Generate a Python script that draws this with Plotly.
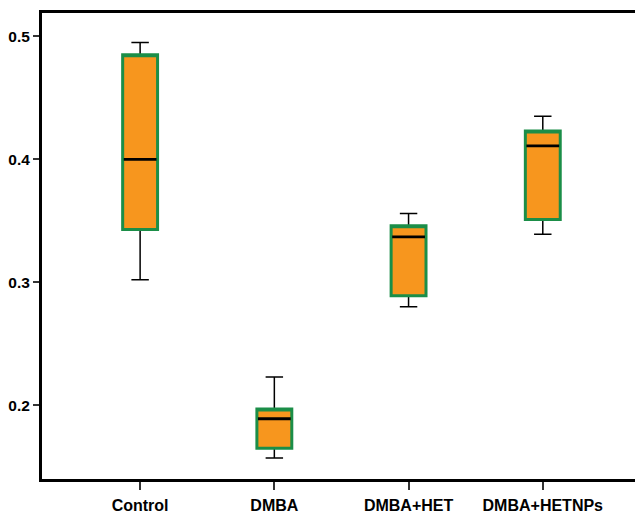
import plotly.graph_objects as go

groups = ["Control", "DMBA", "DMBA+HET", "DMBA+HETNPs"]
lower_whisker = [0.302, 0.157, 0.280, 0.339]
q1_vals = [0.343, 0.165, 0.289, 0.351]
medians = [0.400, 0.189, 0.337, 0.411]
q3_vals = [0.485, 0.197, 0.346, 0.423]
upper_whisker = [0.495, 0.223, 0.356, 0.435]

orange = "#F7961E"
green = "#1B8E48"
box_w = 0.26

fig = go.Figure()

# Whiskers (black) with the full box underneath
fig.add_trace(go.Box(
    x=groups, q1=q1_vals, median=medians, q3=q3_vals,
    lowerfence=lower_whisker, upperfence=upper_whisker,
    width=box_w, whiskerwidth=0.5, fillcolor=orange,
    line=dict(color="black", width=1.5), boxpoints=False,
    hoverinfo="skip", showlegend=False,
))

# Orange body with green outline, no whiskers
fig.add_trace(go.Box(
    x=groups, q1=q1_vals, median=q3_vals, q3=q3_vals,
    lowerfence=q1_vals, upperfence=q3_vals,
    width=box_w, whiskerwidth=0, fillcolor=orange,
    line=dict(color=green, width=3), boxpoints=False,
    showlegend=False,
))

# Black median bar
fig.add_trace(go.Box(
    x=groups, q1=medians, median=medians, q3=medians,
    lowerfence=medians, upperfence=medians,
    width=box_w * 0.94, whiskerwidth=0, fillcolor="rgba(0,0,0,0)",
    line=dict(color="black", width=2.8), boxpoints=False,
    hoverinfo="skip", showlegend=False,
))

fig.update_layout(
    width=635, height=513,
    margin=dict(l=42, r=0, t=13, b=34),
    plot_bgcolor="white", paper_bgcolor="white",
    boxmode="overlay",
    font=dict(family="Liberation Sans, Arial, sans-serif", color="black"),
)

fig.update_xaxes(
    type="category", range=[-0.731, 3.687],
    showline=True, linecolor="black", linewidth=3, mirror=True,
    ticks="outside", ticklen=8, tickwidth=1.5, tickcolor="#333",
    ticklabelstandoff=2,
    tickfont=dict(size=16, family="Liberation Sans, Arial, sans-serif", weight="bold"),
    showgrid=False, zeroline=False,
)
fig.update_yaxes(
    range=[0.140, 0.519],
    tickvals=[0.2, 0.3, 0.4, 0.5], ticktext=["0.2", "0.3", "0.4", "0.5"],
    showline=True, linecolor="black", linewidth=3,
    ticks="outside", ticklen=6, tickwidth=1.5, tickcolor="#333",
    tickfont=dict(size=15.5, family="Liberation Sans, Arial, sans-serif", weight="bold"),
    showgrid=False, zeroline=False,
)

fig.write_html("out.html")
